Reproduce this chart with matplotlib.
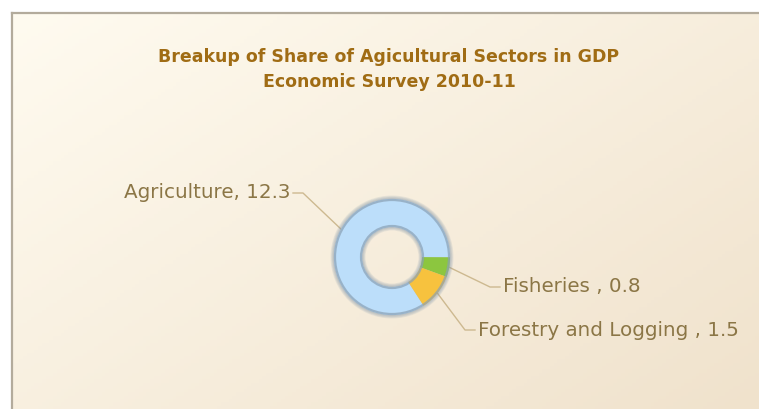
import numpy as np
import matplotlib.pyplot as plt
from matplotlib.patches import Wedge, Circle

sectors = ['Agriculture', 'Fisheries ', 'Forestry and Logging ']
shares = [12.3, 0.8, 1.5]
colors = ['#bcdefa', '#8cc63f', '#f7c23e']

W, H = 759, 409
fig = plt.figure(figsize=(W / 100, H / 100), dpi=100)
ax = fig.add_axes([0, 0, 1, 1])

# panel background: cream to beige diagonal gradient
gx = np.linspace(0, 1, 200)
gy = np.linspace(0, 1, 120)
GX, GY = np.meshgrid(gx, gy)
t = (GX * 0.55 + GY * 0.45)
c0 = np.array([255, 251, 240]) / 255
c1 = np.array([240, 226, 204]) / 255
img = c0[None, None, :] * (1 - t[..., None]) + c1[None, None, :] * t[..., None]
ax.imshow(img, extent=[12, W, 0, H - 13], origin='upper', aspect='auto', zorder=0)
ax.plot([12, 12], [0, H - 13], color='#b3ab9c', lw=1.6, zorder=1)
ax.plot([12, W], [H - 13, H - 13], color='#b3ab9c', lw=1.6, zorder=1)

# title
title_col = '#a06c14'
ax.text(389, H - 57, 'Breakup of Share of Agicultural Sectors in GDP', ha='center', va='center',
        fontsize=12.5, fontweight='bold', color=title_col)
ax.text(389, H - 82, 'Economic Survey 2010-11', ha='center', va='center',
        fontsize=12.5, fontweight='bold', color=title_col)

# donut
cx, cy = 392, H - 257
r_out, r_in = 58, 30
# soft shadow around the ring
for k in range(5):
    ax.add_patch(Wedge((cx, cy), r_out + 3.5 - k * 0.7, 0, 360, width=r_out - r_in + 7 - k * 1.4,
                       color='#7f95aa', alpha=0.12, lw=0, zorder=2))
wedges, _ = ax.pie(shares, colors=colors, startangle=303, counterclock=False,
                   radius=r_out, center=(cx, cy), frame=True,
                   wedgeprops=dict(width=r_out - r_in, edgecolor='none'))
for w in wedges:
    w.set_zorder(3)
ax.set_xlim(0, W)
ax.set_ylim(0, H)
ax.set_aspect('auto')
ax.axis('off')
ax.add_patch(Circle((cx, cy), r_out - 1, fill=False, ec='#8aa0b4', lw=1.6, alpha=0.7, zorder=4))
ax.add_patch(Circle((cx, cy), r_in + 1, fill=False, ec='#8aa0b4', lw=1.6, alpha=0.7, zorder=4))

# leader lines and labels
label_col = '#8b7646'
line_col = '#cdb990'
elbows = [(303, 193, -1), (490, 287, 1), (465, 330, 1)]
for w, name, val, (ex, ey, side) in zip(wedges, sectors, shares, elbows):
    mid = np.deg2rad((w.theta1 + w.theta2) / 2)
    px, py = cx + r_out * np.cos(mid), cy + r_out * np.sin(mid)
    ey = H - ey
    hx = ex + side * 10
    ax.plot([px, ex, hx], [py, ey, ey], color=line_col, lw=1, zorder=1.5)
    ax.text(hx + side * 3, ey, f'{name}, {val}', ha='left' if side > 0 else 'right', va='center',
            fontsize=14.3, color=label_col)

fig.savefig('out.png', dpi=100)
